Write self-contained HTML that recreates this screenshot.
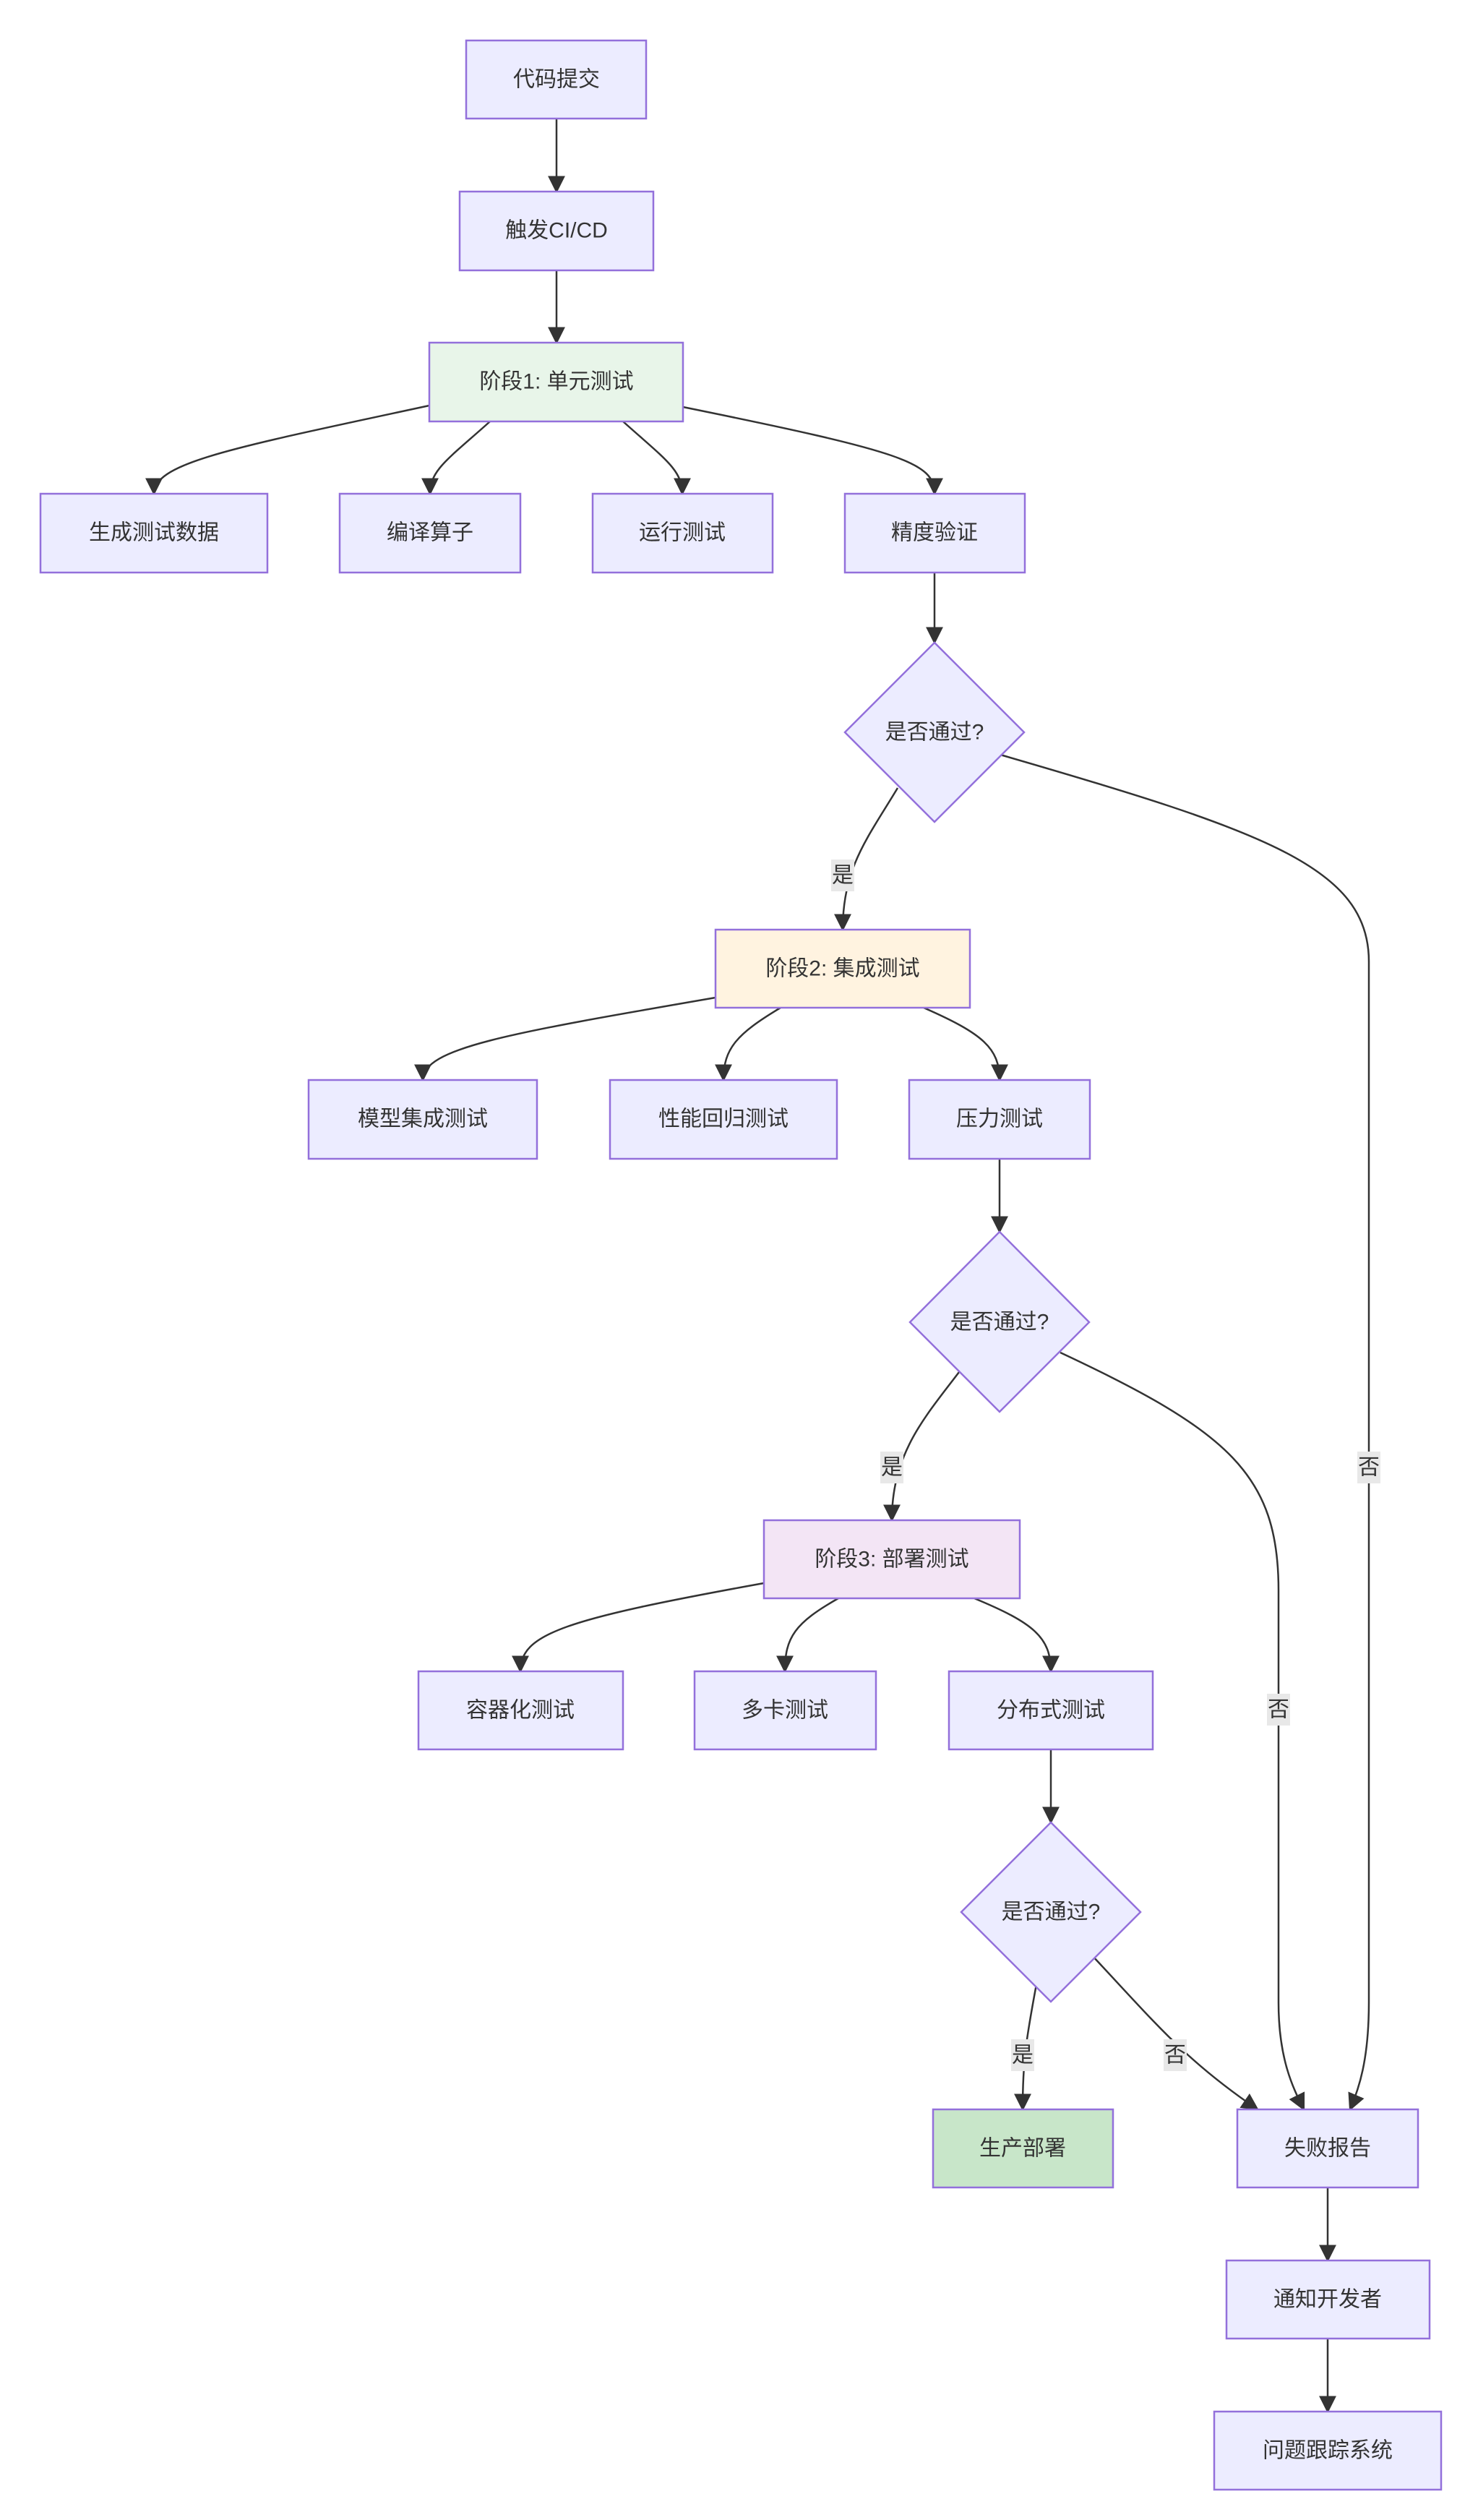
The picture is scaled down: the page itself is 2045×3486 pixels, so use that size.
<!DOCTYPE html>
<html><head><meta charset="utf-8"><style>
html,body{margin:0;padding:0;background:#fff;}
svg{display:block;}
text{font-family:"Liberation Sans","Noto Sans CJK SC",sans-serif;font-size:30px;fill:#333;text-anchor:middle;dominant-baseline:central;}
.n{fill:#ECECFF;stroke:#9370DB;stroke-width:2.5;}
.e{fill:none;stroke:#333;stroke-width:2.5;}
.lb{fill:#e8e8e8;}
</style></head><body>
<svg width="2045" height="3486" viewBox="0 0 2045 3486" xmlns="http://www.w3.org/2000/svg">
<defs><marker id="a" viewBox="0 0 10 10" refX="9" refY="5" markerWidth="8" markerHeight="8" markerUnits="userSpaceOnUse" orient="auto"><path d="M0,0L10,5L0,10z" fill="#333"/></marker>
<marker id="b" viewBox="0 0 10 10" refX="9" refY="5" markerWidth="24" markerHeight="24" markerUnits="userSpaceOnUse" orient="auto"><path d="M0,0L10,5L0,10z" fill="#333"/></marker></defs>

<!-- edges -->
<g class="e" marker-end="url(#b)">
<path d="M770,164V265"/>
<path d="M770,374V474"/>
<path d="M594,561C320,620 213,640 213,683"/>
<path d="M678,583C620,635 595,650 595,683"/>
<path d="M862,583C920,635 944,650 944,683"/>
<path d="M945,563C1250,625 1293,640 1293,683"/>
<path d="M1293,792V889"/>
<path d="M1242,1090C1200,1160 1166,1200 1166,1286"/>
<path d="M990,1380C700,1430 585,1450 585,1494"/>
<path d="M1080,1394C1020,1430 1001,1450 1001,1494"/>
<path d="M1278,1394C1360,1430 1383,1450 1383,1494"/>
<path d="M1383,1603V1704"/>
<path d="M1327,1898C1280,1960 1234,2010 1234,2103"/>
<path d="M1057,2190C780,2240 720,2260 720,2312"/>
<path d="M1160,2211C1100,2245 1086,2265 1086,2312"/>
<path d="M1348,2211C1430,2245 1454,2265 1454,2312"/>
<path d="M1454,2420V2521"/>
<path d="M1434,2745C1420,2820 1415,2850 1415,2918"/>
<path d="M1511,2705C1600,2800 1640,2850 1740,2918"/>
<path d="M1384,1044C1750,1150 1894,1200 1894,1330V2770C1894,2850 1880,2890 1868,2918"/>
<path d="M1467,1871C1700,1980 1769,2040 1769,2200V2770C1769,2850 1790,2890 1804,2918"/>
<path d="M1837,3026V3127"/>
<path d="M1837,3235V3336"/>
</g>

<!-- nodes -->
<rect class="n" x="645" y="56" width="249" height="108"/><text x="770" y="110">代码提交</text>
<rect class="n" x="636" y="265" width="268" height="109"/><text x="770" y="319">触发CI/CD</text>
<rect class="n" x="594" y="474" width="351" height="109" style="fill:#e8f5e9"/><text x="770" y="528">阶段1: 单元测试</text>
<rect class="n" x="56" y="683" width="314" height="109"/><text x="213" y="737">生成测试数据</text>
<rect class="n" x="470" y="683" width="250" height="109"/><text x="595" y="737">编译算子</text>
<rect class="n" x="820" y="683" width="249" height="109"/><text x="944" y="737">运行测试</text>
<rect class="n" x="1169" y="683" width="249" height="109"/><text x="1293" y="737">精度验证</text>
<polygon class="n" points="1293,889 1417,1013 1293,1137 1169,1013"/><text x="1293" y="1013">是否通过?</text>

<rect class="n" x="990" y="1286" width="352" height="108" style="fill:#fff3e0"/><text x="1166" y="1340">阶段2: 集成测试</text>
<rect class="n" x="427" y="1494" width="316" height="109"/><text x="585" y="1548">模型集成测试</text>
<rect class="n" x="844" y="1494" width="314" height="109"/><text x="1001" y="1548">性能回归测试</text>
<rect class="n" x="1258" y="1494" width="250" height="109"/><text x="1383" y="1548">压力测试</text>
<polygon class="n" points="1383,1704 1507,1829 1383,1953 1259,1829"/><text x="1383" y="1829">是否通过?</text>

<rect class="n" x="1057" y="2103" width="354" height="108" style="fill:#f3e5f5"/><text x="1234" y="2157">阶段3: 部署测试</text>
<rect class="n" x="579" y="2312" width="283" height="108"/><text x="720" y="2366">容器化测试</text>
<rect class="n" x="961" y="2312" width="251" height="108"/><text x="1086" y="2366">多卡测试</text>
<rect class="n" x="1313" y="2312" width="282" height="108"/><text x="1454" y="2366">分布式测试</text>
<polygon class="n" points="1454,2521 1578,2645 1454,2769 1330,2645"/><text x="1454" y="2645">是否通过?</text>

<rect class="n" x="1291" y="2918" width="249" height="108" style="fill:#c8e6c9"/><text x="1415" y="2972">生产部署</text>
<rect class="n" x="1712" y="2918" width="250" height="108"/><text x="1837" y="2972">失败报告</text>
<rect class="n" x="1697" y="3127" width="281" height="108"/><text x="1837" y="3181">通知开发者</text>
<rect class="n" x="1680" y="3336" width="314" height="108"/><text x="1837" y="3390">问题跟踪系统</text>

<!-- edge labels -->
<rect class="lb" x="1150" y="1189" width="32" height="44"/><text x="1166" y="1211">是</text>
<rect class="lb" x="1218" y="2008" width="32" height="44"/><text x="1234" y="2030">是</text>
<rect class="lb" x="1399" y="2821" width="32" height="44"/><text x="1415" y="2843">是</text>
<rect class="lb" x="1878" y="2008" width="32" height="44"/><text x="1894" y="2030">否</text>
<rect class="lb" x="1753" y="2343" width="32" height="44"/><text x="1769" y="2365">否</text>
<rect class="lb" x="1610" y="2821" width="32" height="44"/><text x="1626" y="2843">否</text>
</svg>
</body></html>
